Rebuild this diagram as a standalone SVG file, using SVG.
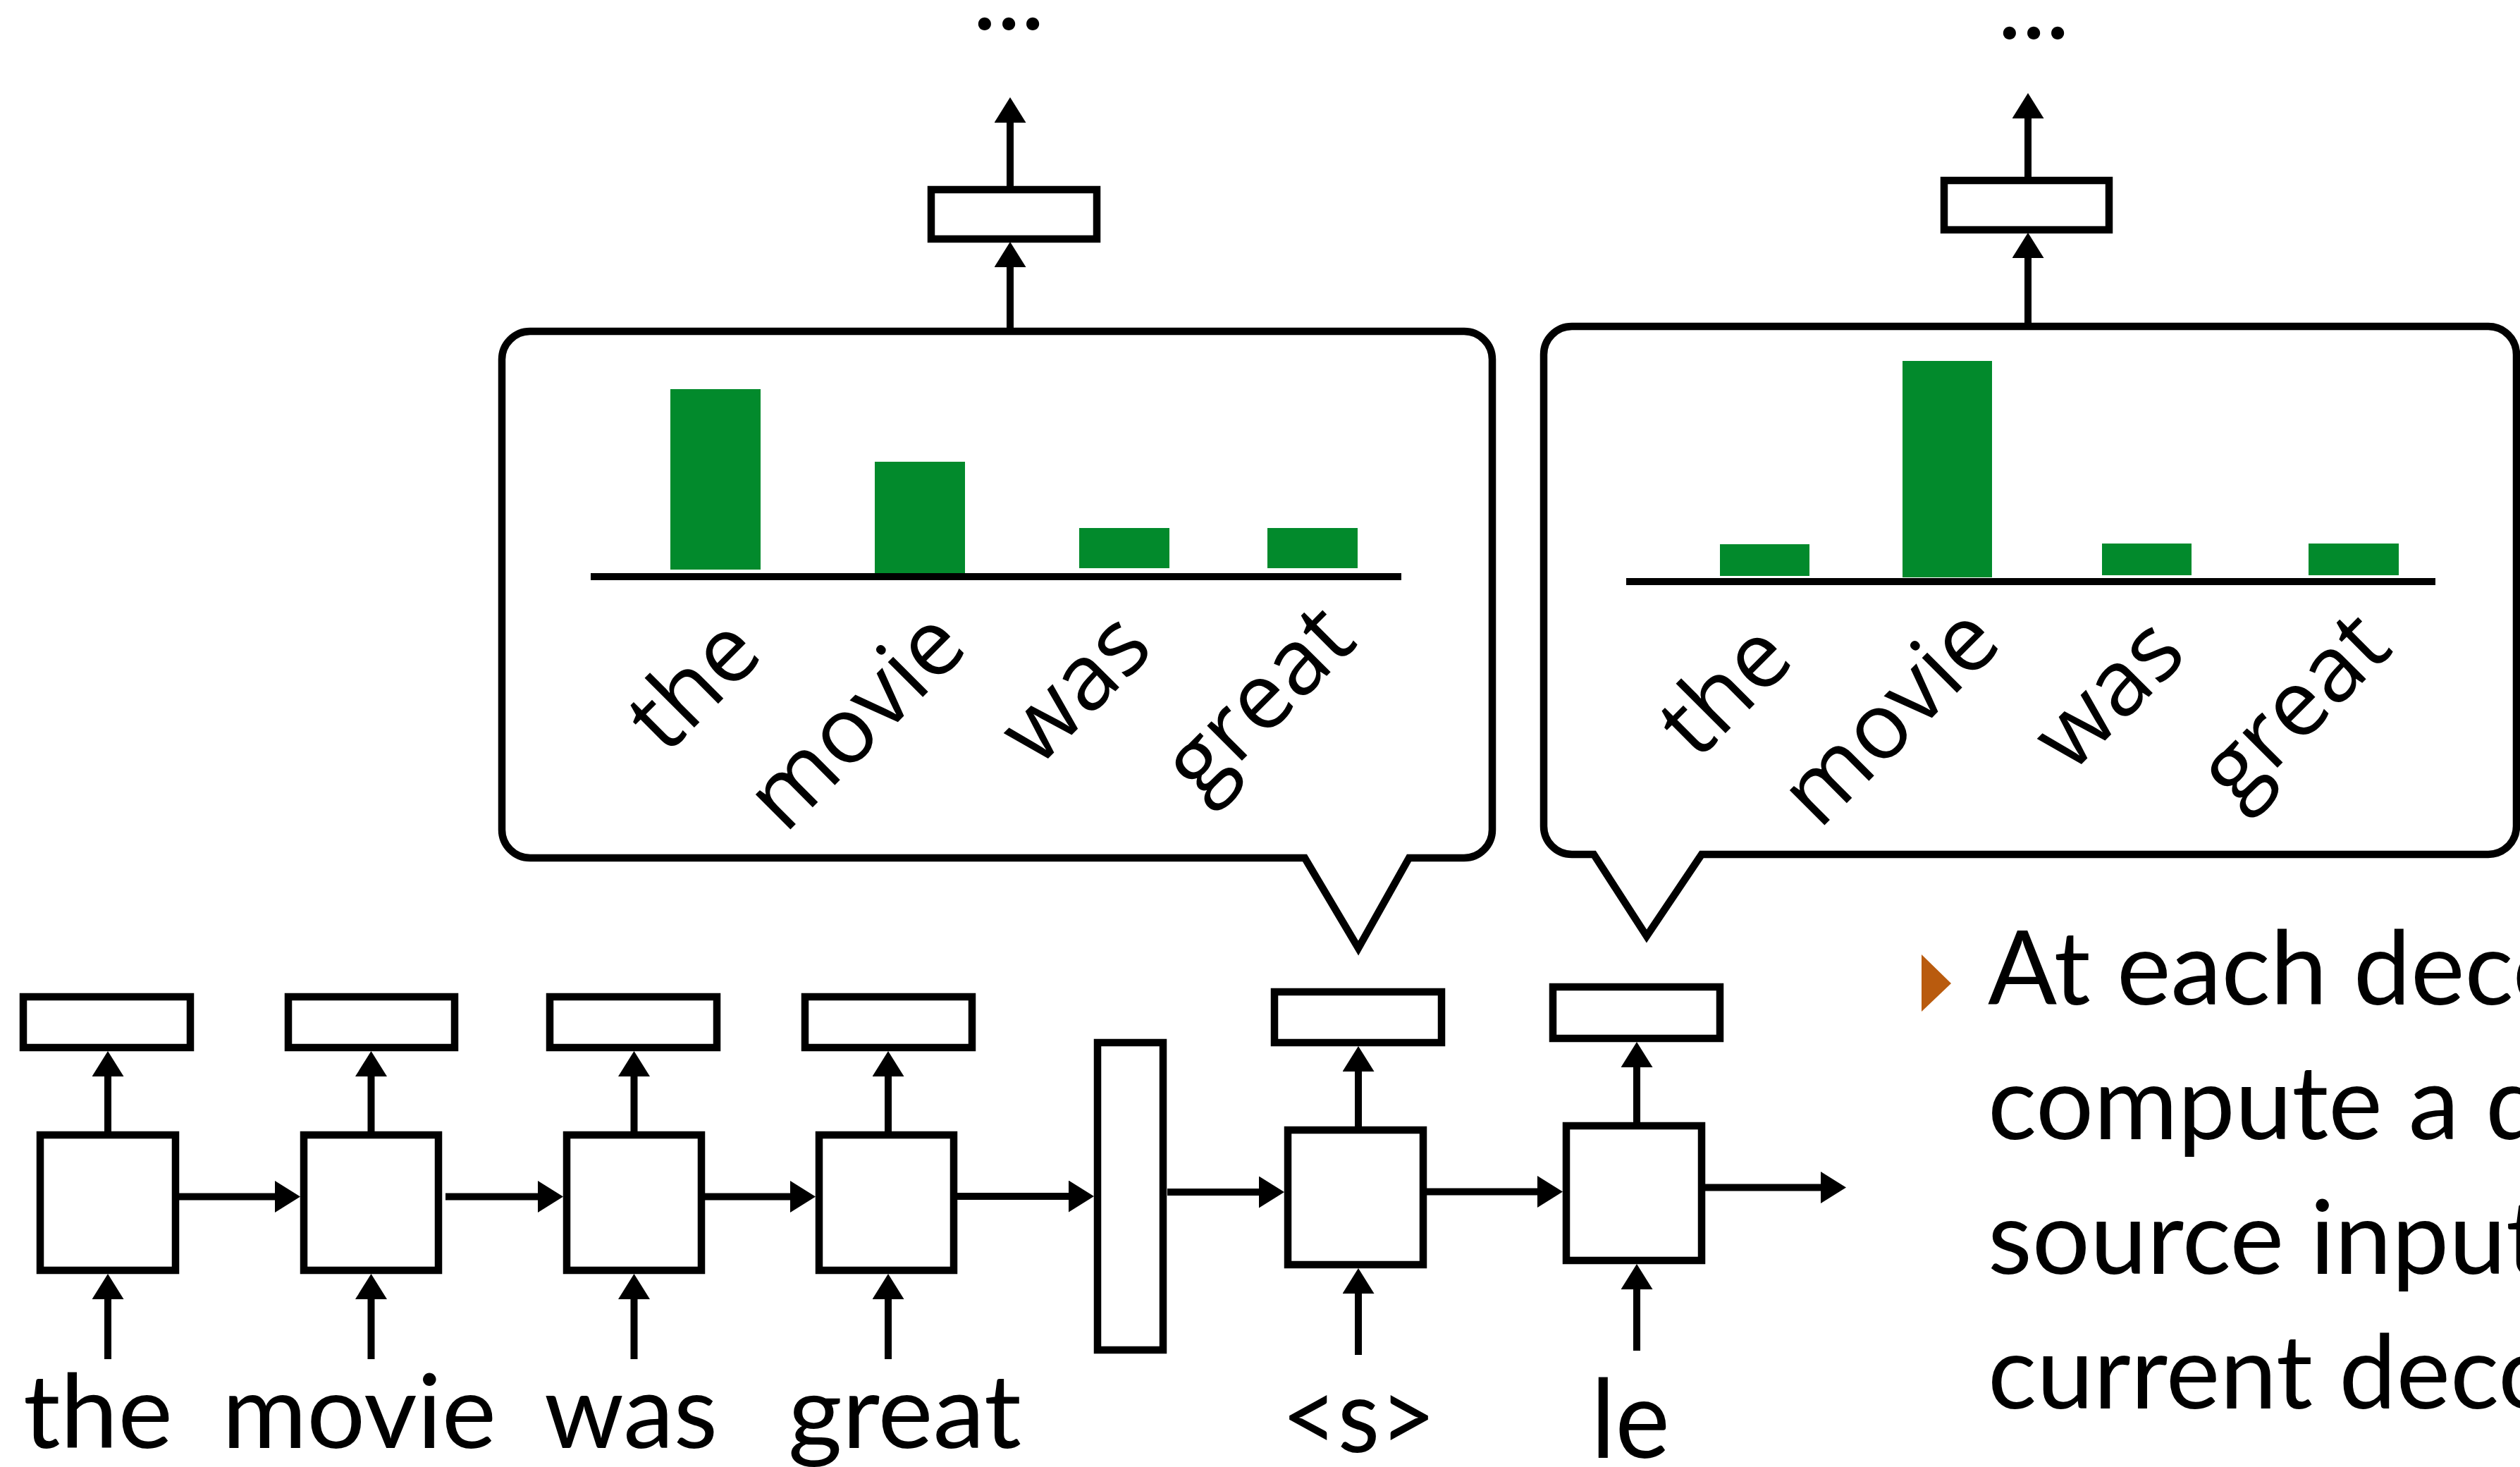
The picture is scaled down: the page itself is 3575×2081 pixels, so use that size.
<svg xmlns="http://www.w3.org/2000/svg" width="3575" height="2081" viewBox="0 0 3575 2081">
<defs>
<style>
.box{fill:#fff;stroke:#000;stroke-width:10.5}
.bubble{fill:#fff;stroke:#000;stroke-width:10.5;stroke-linejoin:miter}
.ln{stroke:#000;stroke-width:10;fill:none;marker-end:url(#ah)}
.axis{stroke:#000;stroke-width:10}
.bar{fill:#028A2C}
.lbl{font-family:Lato,"Open Sans",sans-serif;font-size:145px;fill:#000}
.rot{font-family:"Open Sans","Noto Sans",sans-serif;font-size:131px;fill:#000;text-anchor:middle}
.bul{font-family:Lato,"Open Sans",sans-serif;font-size:145px;fill:#000}
</style>
<marker id="ah" markerUnits="userSpaceOnUse" markerWidth="36" markerHeight="45" refX="10" refY="22.5" orient="auto">
<path d="M0,0 L36,22.5 L0,45 Z" fill="#000"/>
</marker>
</defs>
<rect width="3575" height="2081" fill="#fff"/>

<g id="connectors">
<line class="ln" x1="153" y1="1605" x2="153" y2="1517"/>
<line class="ln" x1="526.5" y1="1605" x2="526.5" y2="1517"/>
<line class="ln" x1="899.5" y1="1605" x2="899.5" y2="1517"/>
<line class="ln" x1="1260" y1="1605" x2="1260" y2="1517"/>
<line class="ln" x1="153" y1="1928" x2="153" y2="1833"/>
<line class="ln" x1="526.5" y1="1928" x2="526.5" y2="1833"/>
<line class="ln" x1="899.5" y1="1928" x2="899.5" y2="1833"/>
<line class="ln" x1="1260" y1="1928" x2="1260" y2="1833"/>
<line class="ln" x1="1927" y1="1598" x2="1927" y2="1510"/>
<line class="ln" x1="1927" y1="1922" x2="1927" y2="1825"/>
<line class="ln" x1="2322" y1="1592" x2="2322" y2="1504"/>
<line class="ln" x1="2322" y1="1916" x2="2322" y2="1819"/>
<line class="ln" x1="1433" y1="466" x2="1433" y2="369"/>
<line class="ln" x1="1433" y1="264" x2="1433" y2="164"/>
<line class="ln" x1="2877" y1="460" x2="2877" y2="356"/>
<line class="ln" x1="2877" y1="251" x2="2877" y2="158"/>
<line class="ln" x1="254" y1="1697.5" x2="400" y2="1697.5"/>
<line class="ln" x1="632" y1="1697.5" x2="773" y2="1697.5"/>
<line class="ln" x1="1000" y1="1697.5" x2="1131" y2="1697.5"/>
<line class="ln" x1="1358" y1="1697" x2="1526" y2="1697"/>
<line class="ln" x1="1656" y1="1691" x2="1796" y2="1691"/>
<line class="ln" x1="2024" y1="1690.5" x2="2191" y2="1690.5"/>
<line class="ln" x1="2419" y1="1684.5" x2="2593" y2="1684.5"/>
</g>

<g id="enc1"><rect class="box" x="57" y="1610" width="192" height="192"/></g>
<g id="enc2"><rect class="box" x="431" y="1610" width="191" height="192"/></g>
<g id="enc3"><rect class="box" x="804" y="1610" width="191" height="192"/></g>
<g id="enc4"><rect class="box" x="1162" y="1610" width="191" height="192"/></g>
<g id="enc1-out"><rect class="box" x="33" y="1414" width="237" height="72"/></g>
<g id="enc2-out"><rect class="box" x="409" y="1414" width="236" height="72"/></g>
<g id="enc3-out"><rect class="box" x="780" y="1414" width="237" height="72"/></g>
<g id="enc4-out"><rect class="box" x="1142" y="1414" width="237" height="72"/></g>
<g id="context"><rect class="box" x="1557" y="1479" width="93" height="436"/></g>
<g id="dec1"><rect class="box" x="1827" y="1603" width="192" height="191"/></g>
<g id="dec1-out"><rect class="box" x="1808" y="1407" width="237" height="72"/></g>
<g id="dec2"><rect class="box" x="2222" y="1597" width="192" height="191"/></g>
<g id="dec2-out"><rect class="box" x="2203" y="1400" width="237" height="73"/></g>

<g id="bubble1">
<path class="bubble" d="M752,470 H2077 A40,40 0 0 1 2117,510 V1177 A40,40 0 0 1 2077,1217 H1999 L1927,1345 L1851,1217 H752 A40,40 0 0 1 712,1177 V510 A40,40 0 0 1 752,470 Z"/>
<rect class="bar" x="951" y="552" width="128" height="256"/>
<rect class="bar" x="1241" y="655" width="128" height="158"/>
<rect class="bar" x="1531" y="749" width="128" height="57"/>
<rect class="bar" x="1798" y="749" width="128" height="57"/>
<line class="axis" x1="838" y1="818" x2="1988" y2="818"/>
<text class="rot" transform="translate(1015,1002) rotate(-45)">the</text>
<text class="rot" transform="translate(1245,1053) rotate(-45)">movie</text>
<text class="rot" transform="translate(1556,1007) rotate(-45)">was</text>
<text class="rot" transform="translate(1816,1025) rotate(-45)">great</text>
</g>

<g id="bubble2">
<path class="bubble" d="M2230,463 H3530 A40,40 0 0 1 3570,503 V1172 A40,40 0 0 1 3530,1212 H2414 L2336,1328 L2261,1212 H2230 A40,40 0 0 1 2190,1172 V503 A40,40 0 0 1 2230,463 Z"/>
<rect class="bar" x="2440" y="772" width="127" height="45"/>
<rect class="bar" x="2699" y="512" width="127" height="307"/>
<rect class="bar" x="2982" y="771" width="127" height="45"/>
<rect class="bar" x="3275" y="771" width="128" height="45"/>
<line class="axis" x1="2307" y1="825" x2="3455" y2="825"/>
<text class="rot" transform="translate(2478,1010) rotate(-45)">the</text>
<text class="rot" transform="translate(2712,1047) rotate(-45)">movie</text>
<text class="rot" transform="translate(3022,1015) rotate(-45)">was</text>
<text class="rot" transform="translate(3285,1035) rotate(-45)">great</text>
</g>

<g id="top1"><rect class="box" x="1321" y="269" width="235" height="70"/></g>
<g id="top2"><rect class="box" x="2758" y="256" width="234" height="70"/></g>
<text class="lbl" x="1431" y="42" text-anchor="middle">...</text>
<text class="lbl" x="2885" y="55" text-anchor="middle">...</text>

<g id="labels">
<text class="lbl" x="33" y="2054" textLength="212" lengthAdjust="spacingAndGlyphs">the</text>
<text class="lbl" x="315" y="2054" textLength="389" lengthAdjust="spacingAndGlyphs">movie</text>
<text class="lbl" x="772" y="2054" textLength="246" lengthAdjust="spacingAndGlyphs">was</text>
<text class="lbl" x="1118" y="2054" textLength="331" lengthAdjust="spacingAndGlyphs">great</text>
<text class="lbl" x="1818" y="2060" textLength="219" lengthAdjust="spacingAndGlyphs">&lt;s&gt;</text>
<text class="lbl" x="2257" y="2068" textLength="112" lengthAdjust="spacingAndGlyphs" style="font-size:155px">le</text>
</g>

<g id="bullet">
<polygon points="2726,1354 2768,1395 2726,1435" fill="#B95B0E"/>
<text class="bul" x="2820" y="1425">At each decoder</text>
<text class="bul" x="2820" y="1616">compute a distribution</text>
<text class="bul" x="2820" y="1807">source inputs</text>
<text class="bul" x="2820" y="1998">current decoder</text>
</g>
</svg>
